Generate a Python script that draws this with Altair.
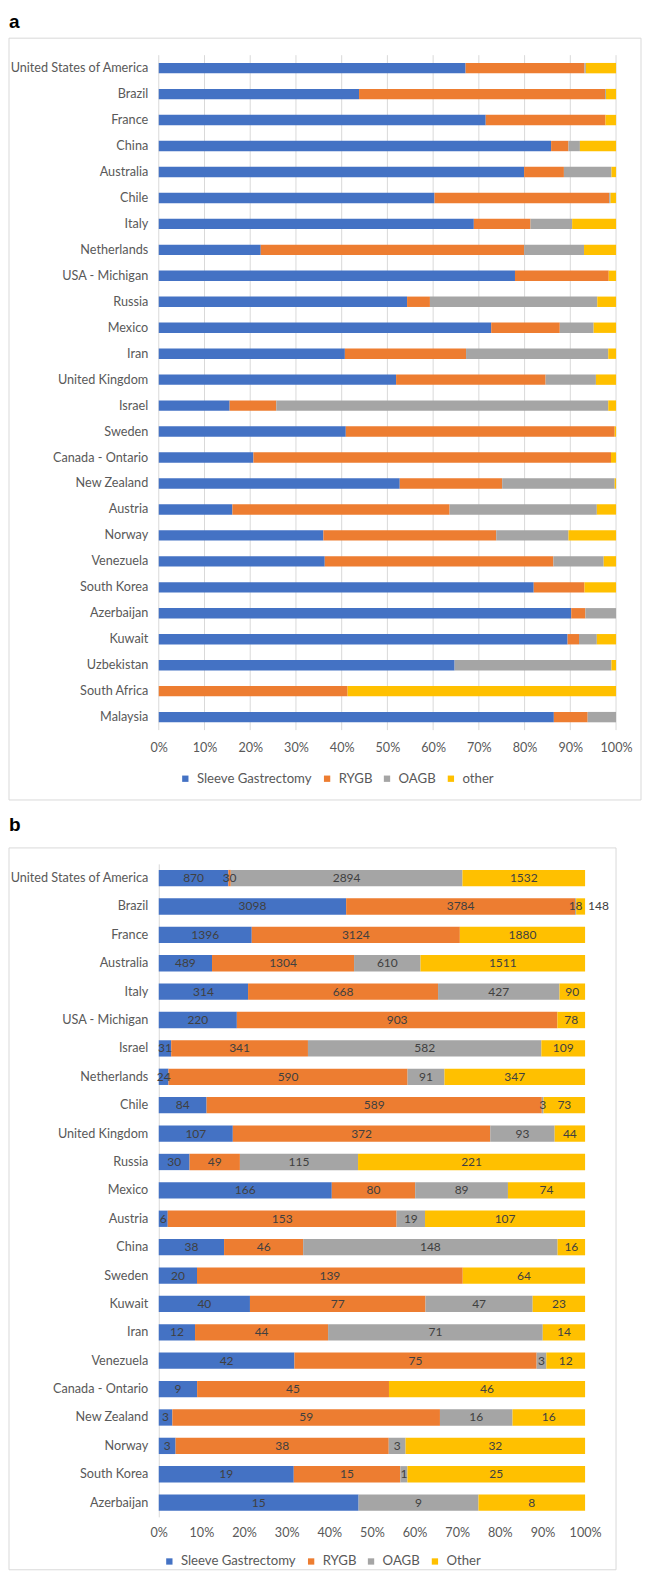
import altair as alt
import pandas as pd

FONT = "Lato"
TXT = "#595959"

procs_a = ["Sleeve Gastrectomy", "RYGB", "OAGB", "other"]
procs_b = ["Sleeve Gastrectomy", "RYGB", "OAGB", "Other"]
colors = ["#4472C4", "#ED7D31", "#A5A5A5", "#FFC000"]

# ---- panel a: shares (%) ----
a_countries = ["United States of America", "Brazil", "France", "China", "Australia", "Chile",
               "Italy", "Netherlands", "USA - Michigan", "Russia", "Mexico", "Iran",
               "United Kingdom", "Israel", "Sweden", "Canada - Ontario", "New Zealand",
               "Austria", "Norway", "Venezuela", "South Korea", "Azerbaijan", "Kuwait",
               "Uzbekistan", "South Africa", "Malaysia"]
a_sleeve = [67.1, 43.8, 71.5, 85.8, 79.9, 60.3, 68.9, 22.3, 77.9, 54.3, 72.7, 40.7, 51.9,
            15.5, 40.9, 20.7, 52.7, 16.1, 36.0, 36.3, 82.0, 90.2, 89.4, 64.7, 0.0, 86.4]
a_rygb = [26.0, 53.8, 26.2, 3.8, 8.7, 38.2, 12.4, 57.6, 20.5, 5.0, 15.0, 26.5, 32.7,
          10.2, 58.8, 78.2, 22.4, 47.5, 37.8, 50.0, 11.1, 3.1, 2.5, 0.0, 41.3, 7.4]
a_oagb = [0.3, 0.2, 0.0, 2.5, 10.4, 0.3, 9.1, 13.1, 0.0, 36.6, 7.4, 31.1, 11.0,
          72.6, 0.0, 0.0, 24.6, 32.2, 15.8, 11.0, 0.0, 6.7, 3.9, 34.3, 0.0, 6.2]
a_other = [6.6, 2.2, 2.3, 7.9, 1.0, 1.2, 9.6, 7.0, 1.6, 4.1, 4.9, 1.7, 4.4,
           1.7, 0.3, 1.1, 0.3, 4.2, 10.4, 2.7, 6.9, 0.0, 4.2, 1.0, 58.7, 0.0]

# ---- panel b: counts ----
b_countries = ["United States of America", "Brazil", "France", "Australia", "Italy",
               "USA - Michigan", "Israel", "Netherlands", "Chile", "United Kingdom", "Russia",
               "Mexico", "Austria", "China", "Sweden", "Kuwait", "Iran", "Venezuela",
               "Canada - Ontario", "New Zealand", "Norway", "South Korea", "Azerbaijan"]
b_sleeve = [870, 3098, 1396, 489, 314, 220, 31, 24, 84, 107, 30, 166, 6, 38, 20, 40, 12, 42, 9, 3, 3, 19, 15]
b_rygb = [30, 3784, 3124, 1304, 668, 903, 341, 590, 589, 372, 49, 80, 153, 46, 139, 77, 44, 75, 45, 59, 38, 15, 0]
b_oagb = [2894, 18, 0, 610, 427, 0, 582, 91, 3, 93, 115, 89, 19, 148, 0, 47, 71, 3, 0, 16, 3, 1, 9]
b_other = [1532, 148, 1880, 1511, 90, 78, 109, 347, 73, 44, 221, 74, 107, 16, 64, 23, 14, 12, 46, 16, 32, 25, 8]

tick_values = [0.0, 0.1, 0.2, 0.3, 0.4, 0.5, 0.6, 0.7, 0.8, 0.9, 1.0]


def long_df(countries, series, procs):
    rows = []
    for i, c in enumerate(countries):
        vals = [s[i] for s in series]
        tot = float(sum(vals))
        nz = [k for k, v in enumerate(vals) if v > 0]
        cum = 0.0
        for k, (p, v) in enumerate(zip(procs, vals)):
            start = cum / tot
            cum += v
            end = cum / tot
            rows.append(dict(country=c, procedure=p, value=v, label=str(v), start=start,
                             end=end, mid=(start + end) / 2, order=k,
                             outside=bool(k == nz[-1] and v / tot < 0.03)))
    return pd.DataFrame(rows)


df_a = long_df(a_countries, [a_sleeve, a_rygb, a_oagb, a_other], procs_a)
df_b = long_df(b_countries, [b_sleeve, b_rygb, b_oagb, b_other], procs_b)
df_b = df_b[df_b["value"] > 0]

one = pd.DataFrame({"k": [0]})
grid_df = pd.DataFrame({"t": tick_values})


def frame(x1, x2, y1, y2):
    return alt.Chart(one).mark_rect(filled=False, stroke="#d9d9d9", strokeWidth=1).encode(
        x=alt.value(x1), x2=alt.value(x2), y=alt.value(y1), y2=alt.value(y2))


def letter(t, y):
    return alt.Chart(one).mark_text(text=t, align="left", baseline="alphabetic", fontSize=19,
                                    fontWeight="bold", font="Liberation Sans", color="black").encode(
        x=alt.value(-150), y=alt.value(y))


def legend(lx, ly):
    return alt.Legend(title=None, orient="none", legendX=lx, legendY=ly, direction="horizontal",
                      symbolType="square", symbolSize=40, symbolStrokeWidth=0, labelFont=FONT,
                      labelFontSize=13.2, labelColor=TXT, columnPadding=8, labelOffset=5)


def xaxis(pad):
    return alt.Axis(title=None, format=".0%", values=tick_values, grid=False, domain=False,
                    ticks=False, labelPadding=pad, labelFont=FONT, labelFontSize=12.6,
                    labelColor=TXT, labelFlush=False)


def yaxis(domain):
    return alt.Axis(title=None, domain=domain, domainColor="#d9d9d9", ticks=False,
                    labelPadding=11, labelFont=FONT, labelFontSize=12.7, labelColor=TXT)


# ---- chart a ----
WA, HA = 458, 676
xsc_a = alt.Scale(domain=[0, 1], nice=False)
grid_a = alt.Chart(grid_df).mark_rule(color="#d9d9d9", strokeWidth=1).encode(
    x=alt.X("t:Q", scale=xsc_a, axis=xaxis(11)), y=alt.value(0), y2=alt.value(HA))
bars_a = alt.Chart(df_a).mark_bar().encode(
    y=alt.Y("country:N", sort=a_countries,
            scale=alt.Scale(paddingInner=0.6, paddingOuter=0.3), axis=yaxis(False)),
    x=alt.X("start:Q", scale=xsc_a, axis=xaxis(11)),
    x2="end:Q",
    color=alt.Color("procedure:N", scale=alt.Scale(domain=procs_a, range=colors),
                    legend=legend(20, 718)),
    order="order:Q",
)
chart_a = alt.layer(frame(-150, 483, -17, 746), letter("a", -27), grid_a, bars_a).properties(
    width=WA, height=HA)

# ---- chart b ----
WB, HB = 427, 654
ysc_b = alt.Scale(paddingInner=0.425, paddingOuter=0.2125)
bars_b = alt.Chart(df_b).mark_bar().encode(
    y=alt.Y("country:N", sort=b_countries, scale=ysc_b, axis=yaxis(True)),
    x=alt.X("start:Q", scale=alt.Scale(domain=[0, 1], nice=False), axis=xaxis(10)),
    x2="end:Q",
    color=alt.Color("procedure:N", scale=alt.Scale(domain=procs_b, range=colors),
                    legend=legend(4, 692)),
    order="order:Q",
)
lab_in = alt.Chart(df_b).transform_filter("!datum.outside").mark_text(
    font=FONT, fontSize=12, color="#404040", align="center", baseline="middle").encode(
    y=alt.Y("country:N", sort=b_countries), x=alt.X("mid:Q"), text="label:N")
lab_out = alt.Chart(df_b).transform_filter("datum.outside").mark_text(
    font=FONT, fontSize=12, color="#404040", align="left", baseline="middle", dx=3).encode(
    y=alt.Y("country:N", sort=b_countries), x=alt.X("end:Q"), text="label:N")
chart_b = alt.layer(frame(-150, 458, -16, 707), letter("b", -33), bars_b, lab_in, lab_out).properties(
    width=WB, height=HB)

chart = alt.vconcat(chart_a, chart_b, spacing=15).resolve_scale(
    color="independent").resolve_legend(color="independent").properties(
    padding={"left": 0, "top": 4, "right": 0, "bottom": 0}, background="white").configure_view(
    strokeWidth=0)

chart.save("out.html", embed_options={"renderer": "svg", "actions": False})
